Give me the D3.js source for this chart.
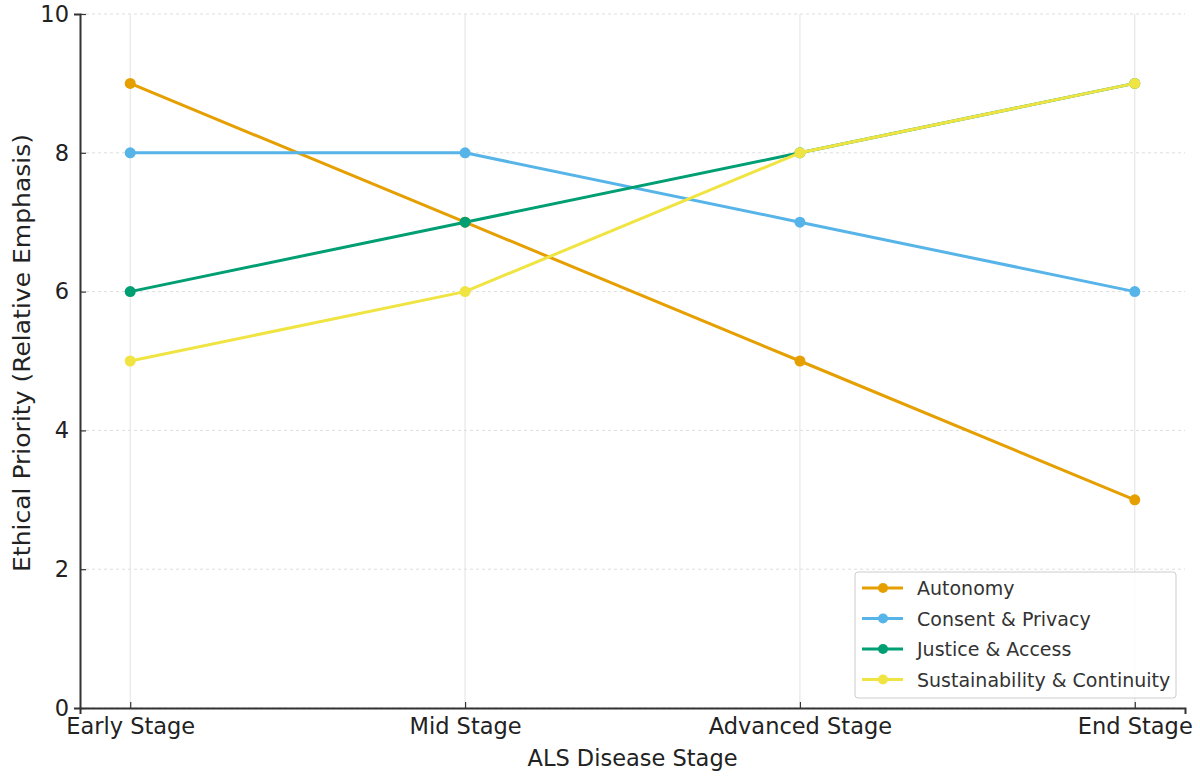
<!DOCTYPE html>
<html>
<head>
<meta charset="utf-8">
<script src="https://cdn.jsdelivr.net/npm/d3@7"></script>
<style>
  body { margin: 0; background: #fff; }
  text { font-family: "DejaVu Sans", sans-serif; }
</style>
</head>
<body>
<svg id="chart" width="1200" height="784"></svg>
<script>
// chart data
const stages = ["Early Stage", "Mid Stage", "Advanced Stage", "End Stage"];
const autonomy = [9, 7, 5, 3];
const consent = [8, 8, 7, 6];
const justice = [6, 7, 8, 9];
const sustainability = [5, 6, 8, 9];
const yTicks = [0, 2, 4, 6, 8, 10];

const series = [
    { name: "Autonomy", values: autonomy, color: "#E69F00" },
    { name: "Consent & Privacy", values: consent, color: "#56B4E9" },
    { name: "Justice & Access", values: justice, color: "#009E73" },
    { name: "Sustainability & Continuity", values: sustainability, color: "#F0E442" }
];

const margin = { top: 14, right: 15, bottom: 76, left: 80 };
const width = 1200 - margin.left - margin.right;
const height = 784 - margin.top - margin.bottom;

const svg = d3.select("#chart");
const g = svg.append("g")
    .attr("transform", "translate(" + margin.left + "," + margin.top + ")");

// matplotlib style 5% margins on categorical index
const x = d3.scaleLinear()
    .domain([-0.15, stages.length - 1 + 0.15])
    .range([0, width]);

const y = d3.scaleLinear()
    .domain([0, 10])
    .range([height, 0]);

// grid
g.append("g")
    .selectAll("line")
    .data(yTicks)
    .join("line")
    .attr("x1", 0).attr("x2", width)
    .attr("y1", d => y(d)).attr("y2", d => y(d))
    .attr("stroke", "#ddd")
    .attr("stroke-dasharray", "3,3")
    .attr("stroke-width", 1);

g.append("g")
    .selectAll("line")
    .data(stages)
    .join("line")
    .attr("x1", (d, i) => x(i)).attr("x2", (d, i) => x(i))
    .attr("y1", 0).attr("y2", height)
    .attr("stroke", "#e2e2e2")
    .attr("stroke-width", 1);

// axes
const xAxis = g.append("g")
    .attr("transform", "translate(0," + height + ")")
    .call(d3.axisBottom(x)
        .tickValues(d3.range(stages.length))
        .tickFormat(i => stages[i])
        .tickSize(6)
        .tickPadding(4));

const yAxis = g.append("g")
    .call(d3.axisLeft(y)
        .tickValues(yTicks)
        .tickSize(6)
        .tickPadding(5));

[xAxis, yAxis].forEach(a => {
    a.select(".domain").attr("stroke", "#333").attr("stroke-width", 2);
    a.selectAll(".tick line").attr("stroke", "#333").attr("stroke-width", 1.2);
    a.selectAll(".tick text")
        .attr("fill", "#222")
        .style("font-size", "22.5px")
        .style("font-family", "DejaVu Sans, sans-serif");
});
// ticks point outward upward? matplotlib ticks point outward
xAxis.selectAll(".tick line").attr("y2", -6);
yAxis.selectAll(".tick line").attr("x2", 6);

// axis labels
svg.append("text")
    .attr("x", margin.left + width / 2)
    .attr("y", 766)
    .attr("text-anchor", "middle")
    .attr("fill", "#222")
    .style("font-size", "22.5px")
    .text("ALS Disease Stage");

svg.append("text")
    .attr("transform", "translate(30," + 353 + ") rotate(-90)")
    .attr("text-anchor", "middle")
    .attr("fill", "#222")
    .attr("textLength", 438)
    .attr("lengthAdjust", "spacingAndGlyphs")
    .style("font-size", "22.5px")
    .text("Ethical Priority (Relative Emphasis)");

// lines
const line = d3.line()
    .x((d, i) => x(i))
    .y(d => y(d));

series.forEach(s => {
    g.append("path")
        .datum(s.values)
        .attr("fill", "none")
        .attr("stroke", s.color)
        .attr("stroke-width", 3)
        .attr("stroke-linejoin", "round")
        .attr("d", line);

    g.append("g")
        .selectAll("circle")
        .data(s.values)
        .join("circle")
        .attr("cx", (d, i) => x(i))
        .attr("cy", d => y(d))
        .attr("r", 5.5)
        .attr("fill", s.color);
});

// legend
const lg = svg.append("g").attr("transform", "translate(855,572)");
lg.append("rect")
    .attr("width", 321).attr("height", 126)
    .attr("rx", 3)
    .attr("fill", "#fff").attr("fill-opacity", 0.85)
    .attr("stroke", "#ccc");

series.forEach((s, i) => {
    const ly = 16 + i * 30.5;
    lg.append("line")
        .attr("x1", 7).attr("x2", 48)
        .attr("y1", ly).attr("y2", ly)
        .attr("stroke", s.color).attr("stroke-width", 3);
    lg.append("circle")
        .attr("cx", 28).attr("cy", ly).attr("r", 5)
        .attr("fill", s.color);
    lg.append("text")
        .attr("x", 62).attr("y", ly + 7)
        .attr("fill", "#333")
        .style("font-size", "19px")
        .text(s.name);
});
</script>
</body>
</html>
